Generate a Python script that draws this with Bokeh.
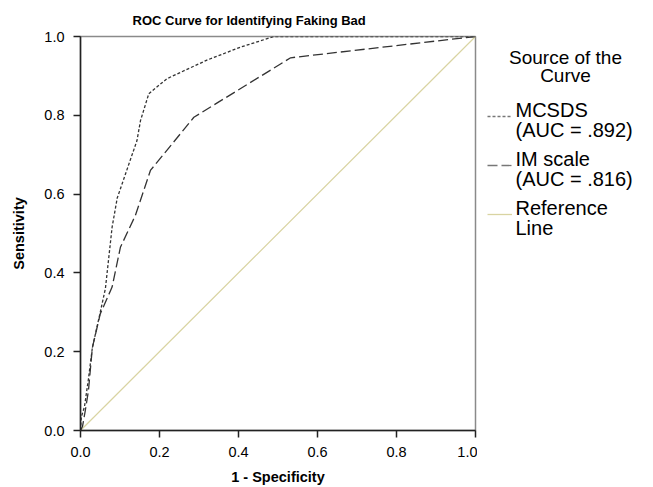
from bokeh.plotting import figure
from bokeh.layouts import row
from bokeh.models import Legend, LegendItem, Range1d, FixedTicker, NumeralTickFormatter, Label
from bokeh.core.properties import value
from bokeh.embed import file_html
from bokeh.resources import INLINE

# ---- data ----
mcsds_fpr = [0.0, 0.002, 0.010, 0.020, 0.030, 0.050, 0.063, 0.080, 0.093, 0.143, 0.152, 0.173, 0.219, 0.320, 0.405, 0.490, 1.0]
mcsds_tpr = [0.0, 0.034, 0.060, 0.130, 0.210, 0.300, 0.360, 0.516, 0.590, 0.736, 0.787, 0.855, 0.893, 0.940, 0.973, 1.000, 1.0]

im_fpr = [0.0, 0.005, 0.012, 0.020, 0.030, 0.050, 0.080, 0.101, 0.139, 0.177, 0.287, 0.532, 1.0]
im_tpr = [0.0, 0.010, 0.050, 0.100, 0.210, 0.296, 0.364, 0.465, 0.546, 0.660, 0.795, 0.946, 1.0]

ref_x = [0.0, 1.0]
ref_y = [0.0, 1.0]

series_labels = ["MCSDS\n(AUC = .892)", "IM scale\n(AUC = .816)", "Reference\nLine"]
legend_title = "Source of the\nCurve"
chart_title = "ROC Curve for Identifying Faking Bad"
x_label = "1 - Specificity"
y_label = "Sensitivity"
x_ticks = [0.0, 0.2, 0.4, 0.6, 0.8, 1.0]
y_ticks = [0.0, 0.2, 0.4, 0.6, 0.8, 1.0]

FONT = "Liberation Sans"
CURVE = "#333333"
REF = "#d9d4a2"
NAN = float("nan")

p = figure(frame_width=395, frame_height=394, output_backend="svg", toolbar_location=None,
           x_range=Range1d(0, 1), y_range=Range1d(0, 1),
           min_border_left=80, min_border_right=2, min_border_top=36, min_border_bottom=57,
           background_fill_color="white", border_fill_color="white")

p.title.text = chart_title
p.title.text_font = FONT
p.title.text_font_size = "13px"
p.title.text_font_style = "bold"
p.title.text_color = "black"
p.title.align = "left"
p.title.offset = 52
p.title.standoff = 18

p.grid.visible = False
p.outline_line_color = "#8a8a8a"
p.outline_line_width = 1.5

for ax, ticks, lab in ((p.xaxis, x_ticks, x_label), (p.yaxis, y_ticks, y_label)):
    ax.ticker = FixedTicker(ticks=ticks)
    ax.formatter = NumeralTickFormatter(format="0.0")
    ax.axis_line_color = "#222222"
    ax.axis_line_width = 1.5
    ax.major_tick_line_color = "#222222"
    ax.major_tick_line_width = 1.5
    ax.major_tick_in = 0
    ax.major_tick_out = 7
    ax.minor_tick_line_color = None
    ax.major_label_text_font = FONT
    ax.major_label_text_font_size = "14.5px"
    ax.major_label_text_color = "black"
    ax.axis_label = lab
    ax.axis_label_text_font = FONT
    ax.axis_label_text_font_size = "14.5px"
    ax.axis_label_text_font_style = "bold"
    ax.axis_label_text_color = "black"

p.yaxis.major_label_standoff = 9
p.yaxis.axis_label_standoff = 14
p.xaxis.major_label_standoff = 9
p.xaxis.axis_label_standoff = 9

p.line(ref_x, ref_y, line_color=REF, line_width=1.2)
p.line(im_fpr, im_tpr, line_color=CURVE, line_width=1.3, line_dash="10 4")
p.line(mcsds_fpr, mcsds_tpr, line_color=CURVE, line_width=1.3, line_dash="3 2")

# ---- legend panel (separate canvas to the right of the plot) ----
# its frame is aligned with the plot frame (rows align frames): y range in page pixels
LW, LH = 176, 487
lf = figure(width=LW, height=LH, output_backend="svg", toolbar_location=None,
            x_range=Range1d(0, LW), y_range=Range1d(LH - 430, LH - 36),
            min_border=0, background_fill_color="white", border_fill_color="white")
lf.axis.visible = False
lf.grid.visible = False
lf.outline_line_color = None

k_mc = lf.line(x=[NAN], y=[NAN], line_color="#777777", line_width=1.3, line_dash="3 2")
k_im = lf.line(x=[NAN], y=[NAN], line_color="#777777", line_width=1.3, line_dash="10 4")
k_ref = lf.line(x=[NAN], y=[NAN], line_color=REF, line_width=1.3)

# legend keys (samples); the multi-line entry texts are set as labels beside them
legend = Legend(
    items=[LegendItem(label=value(" "), renderers=[k_mc]),
           LegendItem(label=value(" "), renderers=[k_im]),
           LegendItem(label=value(" "), renderers=[k_ref])],
    location=(10, 206),
    border_line_color=None,
    background_fill_alpha=0,
    label_text_font=FONT,
    label_text_font_size="1px",
    label_height=20,
    label_width=1,
    glyph_width=25,
    glyph_height=20,
    label_standoff=0,
    spacing=29,
    padding=0,
    margin=0,
)
lf.add_layout(legend, "center")

lf.add_layout(Label(x=88, y=LH - 46, text=legend_title, text_align="center", text_baseline="top",
                    text_font=FONT, text_font_size="19px", text_color="black", text_line_height=0.9))

entry_tops = [98, 147, 196]
for txt, top in zip(series_labels, entry_tops):
    lf.add_layout(Label(x=38, y=LH - top, text=txt, text_align="left", text_baseline="top",
                        text_font=FONT, text_font_size="20px", text_color="black",
                        text_line_height=0.93))

layout = row(p, lf, spacing=0)
open("out.html", "w").write(file_html(layout, INLINE))
